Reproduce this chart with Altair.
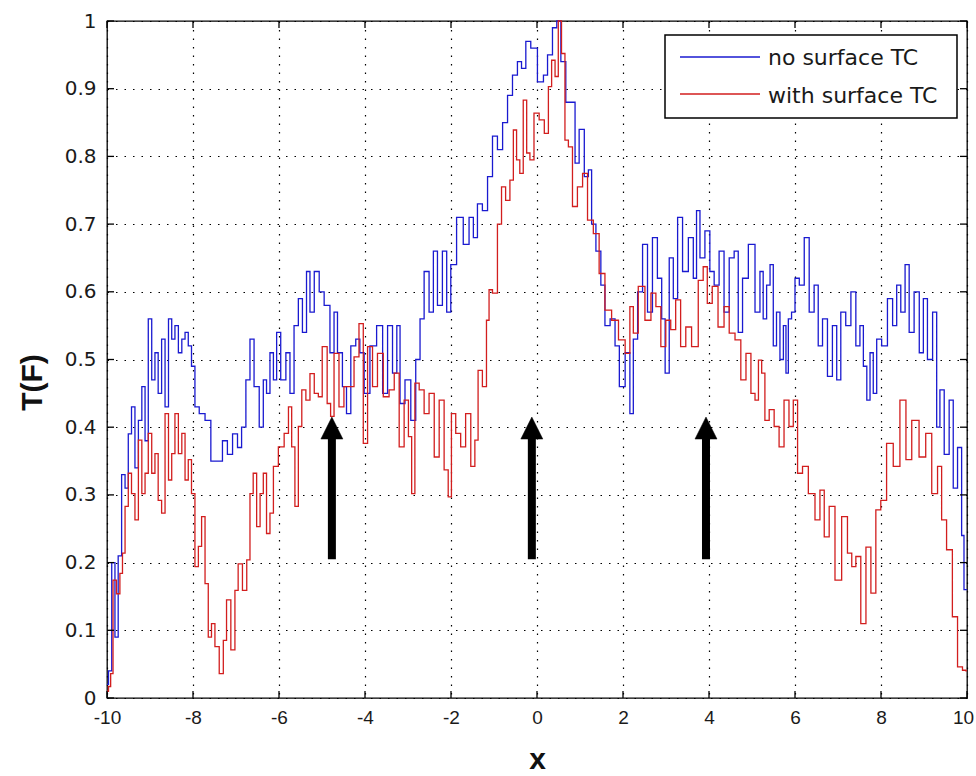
import altair as alt
import pandas as pd

# ---- data ----
blue_pts = [
    [-10.0, 0.02], [-9.93, 0.04], [-9.85, 0.20], [-9.78, 0.09], [-9.70, 0.21], [-9.62, 0.33],
    [-9.54, 0.31], [-9.47, 0.39], [-9.39, 0.43], [-9.31, 0.34], [-9.23, 0.41], [-9.15, 0.46],
    [-9.08, 0.38], [-9.00, 0.56], [-8.92, 0.47], [-8.85, 0.51], [-8.77, 0.45], [-8.69, 0.53],
    [-8.61, 0.43], [-8.53, 0.56], [-8.46, 0.53], [-8.38, 0.55], [-8.30, 0.51], [-8.22, 0.53],
    [-8.15, 0.54], [-8.07, 0.52], [-8.00, 0.49], [-7.91, 0.43], [-7.80, 0.42], [-7.64, 0.41],
    [-7.53, 0.35], [-7.37, 0.35], [-7.26, 0.38], [-7.14, 0.36], [-7.02, 0.39], [-6.91, 0.37],
    [-6.83, 0.40], [-6.71, 0.47], [-6.64, 0.53], [-6.52, 0.46], [-6.40, 0.40], [-6.33, 0.47],
    [-6.25, 0.45], [-6.17, 0.51], [-6.09, 0.47], [-6.02, 0.54], [-5.90, 0.47], [-5.78, 0.51],
    [-5.71, 0.45], [-5.59, 0.55], [-5.51, 0.59], [-5.40, 0.54], [-5.32, 0.63], [-5.24, 0.57],
    [-5.12, 0.63], [-5.01, 0.60], [-4.89, 0.58], [-4.74, 0.51], [-4.70, 0.57], [-4.58, 0.51],
    [-4.47, 0.46], [-4.39, 0.42], [-4.27, 0.52], [-4.16, 0.53], [-4.08, 0.51], [-3.96, 0.45],
    [-3.81, 0.52], [-3.65, 0.55], [-3.53, 0.45], [-3.42, 0.55], [-3.30, 0.48], [-3.22, 0.55],
    [-3.15, 0.435], [-2.99, 0.47], [-2.88, 0.41], [-2.76, 0.50], [-2.68, 0.56], [-2.57, 0.63],
    [-2.45, 0.57], [-2.37, 0.66], [-2.26, 0.58], [-2.14, 0.66], [-2.06, 0.57], [-1.95, 0.64],
    [-1.79, 0.71], [-1.64, 0.67], [-1.52, 0.71], [-1.44, 0.68], [-1.33, 0.73], [-1.21, 0.72],
    [-1.09, 0.77], [-0.98, 0.83], [-0.86, 0.81], [-0.74, 0.85], [-0.63, 0.89], [-0.51, 0.92],
    [-0.40, 0.94], [-0.32, 0.93], [-0.20, 0.97], [-0.09, 0.96], [0.11, 0.91], [0.19, 0.92],
    [0.30, 0.95], [0.42, 0.99], [0.50, 1.0], [0.61, 0.94], [0.73, 0.88], [0.85, 0.88],
    [0.92, 0.79], [1.04, 0.84], [1.16, 0.77], [1.23, 0.78], [1.31, 0.70], [1.43, 0.66],
    [1.54, 0.61], [1.62, 0.55], [1.78, 0.56], [1.85, 0.52], [1.98, 0.46], [2.12, 0.51],
    [2.20, 0.42], [2.28, 0.53], [2.40, 0.60], [2.51, 0.67], [2.63, 0.57], [2.74, 0.68],
    [2.86, 0.62], [2.94, 0.56], [3.02, 0.48], [3.13, 0.65], [3.21, 0.59], [3.33, 0.71],
    [3.44, 0.63], [3.60, 0.68], [3.67, 0.62], [3.75, 0.72], [3.83, 0.65], [3.98, 0.69],
    [4.06, 0.63], [4.18, 0.61], [4.29, 0.66], [4.41, 0.57], [4.53, 0.65], [4.64, 0.66],
    [4.72, 0.54], [4.84, 0.62], [4.99, 0.67], [5.15, 0.57], [5.22, 0.63], [5.30, 0.56],
    [5.38, 0.61], [5.46, 0.64], [5.53, 0.52], [5.61, 0.57], [5.69, 0.50], [5.77, 0.55],
    [5.81, 0.48], [5.88, 0.56], [5.96, 0.57], [6.04, 0.62], [6.16, 0.61], [6.27, 0.68],
    [6.39, 0.57], [6.50, 0.61], [6.58, 0.52], [6.70, 0.56], [6.81, 0.475], [6.93, 0.55],
    [7.01, 0.47], [7.12, 0.57], [7.24, 0.55], [7.36, 0.60], [7.47, 0.52], [7.55, 0.55],
    [7.63, 0.49], [7.71, 0.44], [7.78, 0.51], [7.86, 0.45], [7.94, 0.53], [8.09, 0.52],
    [8.21, 0.59], [8.33, 0.55], [8.40, 0.61], [8.52, 0.57], [8.60, 0.64], [8.71, 0.54],
    [8.83, 0.60], [8.95, 0.51], [9.02, 0.59], [9.14, 0.50], [9.26, 0.57], [9.33, 0.40],
    [9.41, 0.455], [9.53, 0.36], [9.64, 0.44], [9.72, 0.31], [9.84, 0.37], [9.91, 0.24],
    [9.95, 0.16], [10.0, 0.16],
]

red_pts = [
    [-10.0, 0.01], [-9.93, 0.017], [-9.90, 0.036], [-9.82, 0.174], [-9.74, 0.154], [-9.66, 0.184],
    [-9.62, 0.214], [-9.54, 0.283], [-9.47, 0.332], [-9.39, 0.302], [-9.31, 0.263], [-9.23, 0.381],
    [-9.15, 0.302], [-9.08, 0.332], [-9.00, 0.391], [-8.92, 0.332], [-8.85, 0.361], [-8.77, 0.292],
    [-8.69, 0.273], [-8.61, 0.42], [-8.53, 0.322], [-8.46, 0.361], [-8.38, 0.42], [-8.30, 0.361],
    [-8.22, 0.391], [-8.15, 0.322], [-8.07, 0.352], [-8.00, 0.302], [-7.91, 0.194], [-7.84, 0.224],
    [-7.76, 0.268], [-7.68, 0.169], [-7.61, 0.09], [-7.53, 0.11], [-7.45, 0.076], [-7.33, 0.036],
    [-7.26, 0.085], [-7.18, 0.145], [-7.06, 0.071], [-6.99, 0.159], [-6.91, 0.198], [-6.79, 0.159],
    [-6.71, 0.204], [-6.64, 0.302], [-6.56, 0.332], [-6.48, 0.253], [-6.40, 0.302], [-6.33, 0.332],
    [-6.25, 0.243], [-6.17, 0.273], [-6.09, 0.342], [-5.94, 0.371], [-5.82, 0.391], [-5.74, 0.43],
    [-5.67, 0.371], [-5.59, 0.283], [-5.51, 0.401], [-5.43, 0.455], [-5.32, 0.44], [-5.24, 0.479],
    [-5.12, 0.45], [-5.05, 0.445], [-4.94, 0.519], [-4.82, 0.435], [-4.78, 0.416], [-4.66, 0.509],
    [-4.55, 0.43], [-4.43, 0.46], [-4.31, 0.46], [-4.20, 0.504], [-4.08, 0.553], [-4.00, 0.376],
    [-3.88, 0.519], [-3.77, 0.46], [-3.65, 0.509], [-3.50, 0.445], [-3.38, 0.455], [-3.26, 0.48],
    [-3.15, 0.371], [-3.03, 0.44], [-2.95, 0.386], [-2.88, 0.302], [-2.80, 0.465], [-2.68, 0.455],
    [-2.57, 0.42], [-2.45, 0.45], [-2.33, 0.356], [-2.22, 0.44], [-2.10, 0.337], [-2.03, 0.297],
    [-1.95, 0.42], [-1.83, 0.391], [-1.72, 0.371], [-1.60, 0.42], [-1.48, 0.342], [-1.41, 0.381],
    [-1.33, 0.484], [-1.21, 0.46], [-1.14, 0.558], [-1.09, 0.603], [-0.98, 0.598], [-0.86, 0.70],
    [-0.79, 0.755], [-0.67, 0.735], [-0.59, 0.765], [-0.51, 0.839], [-0.44, 0.795], [-0.36, 0.775],
    [-0.28, 0.883], [-0.20, 0.805], [-0.13, 0.795], [-0.01, 0.864], [0.11, 0.854], [0.23, 0.834],
    [0.30, 0.903], [0.38, 0.942], [0.46, 0.918], [0.53, 1.0], [0.61, 0.952], [0.69, 0.824],
    [0.77, 0.814], [0.88, 0.726], [1.00, 0.755], [1.12, 0.775], [1.23, 0.706], [1.39, 0.686],
    [1.50, 0.627], [1.66, 0.573], [1.81, 0.558], [1.98, 0.529], [2.12, 0.509], [2.20, 0.578],
    [2.28, 0.539], [2.43, 0.608], [2.59, 0.558], [2.71, 0.598], [2.82, 0.578], [2.94, 0.519],
    [3.05, 0.558], [3.17, 0.544], [3.28, 0.588], [3.40, 0.519], [3.52, 0.548], [3.67, 0.519],
    [3.83, 0.617], [3.90, 0.637], [4.02, 0.583], [4.13, 0.608], [4.29, 0.548], [4.41, 0.578],
    [4.53, 0.539], [4.68, 0.529], [4.80, 0.47], [4.92, 0.509], [5.03, 0.45], [5.11, 0.44],
    [5.19, 0.499], [5.26, 0.48], [5.34, 0.41], [5.46, 0.426], [5.57, 0.401], [5.69, 0.371],
    [5.80, 0.44], [5.92, 0.401], [6.00, 0.44], [6.12, 0.332], [6.23, 0.342], [6.39, 0.302],
    [6.54, 0.263], [6.62, 0.307], [6.74, 0.238], [6.85, 0.283], [7.01, 0.174], [7.16, 0.268],
    [7.28, 0.214], [7.36, 0.194], [7.47, 0.209], [7.59, 0.11], [7.71, 0.223], [7.82, 0.155],
    [7.94, 0.278], [8.05, 0.292], [8.21, 0.376], [8.36, 0.342], [8.52, 0.44], [8.64, 0.352],
    [8.79, 0.41], [8.98, 0.356], [9.10, 0.391], [9.26, 0.302], [9.37, 0.342], [9.45, 0.263],
    [9.60, 0.219], [9.72, 0.12], [9.84, 0.046], [9.95, 0.041], [10.0, 0.04],
]

x_ticks = [-10, -8, -6, -4, -2, 0, 2, 4, 6, 8, 10]
y_ticks = [0, 0.1, 0.2, 0.3, 0.4, 0.5, 0.6, 0.7, 0.8, 0.9, 1.0]

arrow_x = [-4.77, -0.12, 3.93]
arrow_tip = 0.415
arrow_base = 0.205

legend_labels = ["no surface TC", "with surface TC"]
series_colors = ["#1a1ad0", "#d21e1e"]

# ---- layout ----
W, H = 860, 677

df_b = pd.DataFrame(blue_pts, columns=["x", "T"])
df_r = pd.DataFrame(red_pts, columns=["x", "T"])

xs = alt.Scale(domain=[-10, 10], nice=False, zero=False)
ys = alt.Scale(domain=[0, 1], nice=False, zero=False)

x_axis = alt.Axis(
    values=x_ticks, labelExpr="'' + datum.value", title="x", grid=True, ticks=False,
    tickSize=0, domain=False,
    gridDash=[1.5, 7], gridColor="#000000", gridOpacity=1, gridWidth=1.2,
    labelFont="Liberation Sans Narrow, Liberation Sans", labelFontSize=19,
    labelColor="#1a1a1a", labelPadding=10, labelFlush=False,
    labelOffset=alt.expr("datum.value == 10 ? -4 : 0"),
    titleFont="Liberation Sans", titleFontSize=30, titleFontWeight="bold", titleColor="#111111",
    titlePadding=17,
)
y_axis = alt.Axis(
    values=y_ticks, format=".1~f", title="T(F)", grid=True, ticks=False, tickSize=0, domain=False,
    gridDash=[1.5, 7], gridColor="#000000", gridOpacity=1, gridWidth=1.2,
    labelFont="DejaVu Sans", labelFontSize=20, labelColor="#1a1a1a", labelPadding=11,
    labelFlush=False,
    titleFont="Liberation Sans", titleFontSize=30, titleFontWeight="bold", titleColor="#111111",
    titleX=-60, titleY=361, titleBaseline="bottom",
)


def X(field):
    return alt.X(field, scale=xs, axis=x_axis)


def Y(field):
    return alt.Y(field, scale=ys, axis=y_axis)


blue_line = alt.Chart(df_b).mark_line(
    color=series_colors[0], strokeWidth=1.3, interpolate="step"
).encode(x=X("x:Q"), y=Y("T:Q"))

red_line = alt.Chart(df_r).mark_line(
    color=series_colors[1], strokeWidth=1.3, interpolate="step"
).encode(x=X("x:Q"), y=Y("T:Q"))

# inward tick marks (MATLAB style) on all four sides
xt = pd.DataFrame({"v": x_ticks})
yt = pd.DataFrame({"v": y_ticks})
tick_len = 7
xt_bottom = alt.Chart(xt).mark_rule(color="#000000", strokeWidth=1.3).encode(
    x=X("v:Q"), y=alt.value(H), y2=alt.value(H - tick_len))
xt_top = alt.Chart(xt).mark_rule(color="#000000", strokeWidth=1.3).encode(
    x=X("v:Q"), y=alt.value(0), y2=alt.value(tick_len))
yt_left = alt.Chart(yt).mark_rule(color="#000000", strokeWidth=1.3).encode(
    y=Y("v:Q"), x=alt.value(0), x2=alt.value(tick_len))
yt_right = alt.Chart(yt).mark_rule(color="#000000", strokeWidth=1.3).encode(
    y=Y("v:Q"), x=alt.value(W - tick_len), x2=alt.value(W))

# arrows
arr = pd.DataFrame({"x": arrow_x, "base": [arrow_base] * 3, "tip": [arrow_tip] * 3})
arr["shaft_top"] = arr["tip"] - 0.02
shafts = alt.Chart(arr).mark_rule(color="#000000", strokeWidth=8, strokeCap="butt").encode(
    x=X("x:Q"), y=Y("base:Q"), y2="shaft_top:Q",
)
heads = alt.Chart(arr).mark_point(
    shape="M0,-1 L1,1 L-1,1 Z", filled=True, fill="#000000", stroke="#000000",
    strokeWidth=0.5, size=484, opacity=1, yOffset=11,
).encode(x=X("x:Q"), y=Y("tip:Q"))

# legend box
one = alt.Data(values=[{"k": 1}])
leg_box = alt.Chart(one).mark_rect(fill="#ffffff", stroke="#000000", strokeWidth=1.5).encode(
    x=alt.value(558), x2=alt.value(850), y=alt.value(14), y2=alt.value(97))
leg_df = pd.DataFrame({"label": legend_labels, "color": series_colors, "row": [0, 1]})
leg_lines = alt.Chart(leg_df).transform_calculate(
    ly="36 + 37 * datum.row"
).mark_rule(strokeWidth=1.5).encode(
    x=alt.value(573), x2=alt.value(653),
    y=alt.Y("ly:Q", scale=None, axis=None),
    color=alt.Color("color:N", scale=None, legend=None),
)
leg_text = alt.Chart(leg_df).transform_calculate(
    ly="37 + 38 * datum.row"
).mark_text(
    align="left", baseline="middle", font="DejaVu Sans", fontSize=22, color="#1a1a1a"
).encode(
    x=alt.value(661),
    y=alt.Y("ly:Q", scale=None, axis=None),
    text="label:N",
)

chart = alt.layer(
    blue_line, red_line, xt_bottom, xt_top, yt_left, yt_right,
    shafts, heads, leg_box, leg_lines, leg_text,
).properties(
    width=W, height=H,
    autosize=alt.AutoSizeParams(type="none"),
    padding={"left": 107, "top": 21, "right": 9, "bottom": 78},
    background="#ffffff",
).configure_view(
    stroke="#000000", strokeWidth=1.3,
)

chart.save("out.html", embed_options={"renderer": "svg", "actions": False})
